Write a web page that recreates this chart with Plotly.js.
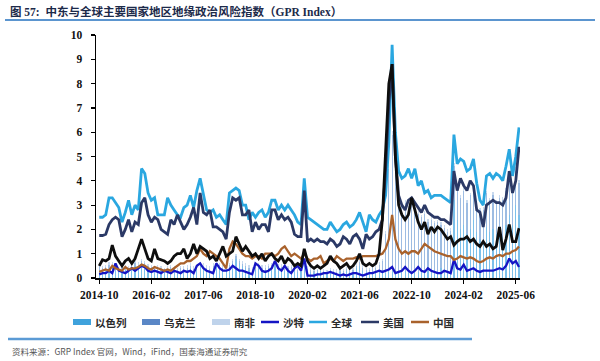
<!DOCTYPE html>
<html><head><meta charset="utf-8">
<script src="https://cdn.plot.ly/plotly-3.0.1.min.js"></script>
<style>html,body{margin:0;padding:0;background:#fff}#chart{width:600px;height:361px}</style>
</head><body><div id="chart"></div>
<script>
// ---------- DATA ----------
const startYear = 2014, startMonth = 10, nMonths = 130;
const months = [];
for (let i = 0; i < nMonths; i++) {
  const m = startMonth - 1 + i;
  months.push((startYear + Math.floor(m / 12)) + '-' + String((m % 12) + 1).padStart(2, '0'));
}
const tickLabels = ['2014-10','2016-02','2017-06','2018-10','2020-02','2021-06','2022-10','2024-02','2025-06'];

const israel = [
 0.3,0.25,0.3,0.35,0.4,0.3,0.25,0.3,0.35,0.3,
 0.4,0.5,0.45,0.6,0.5,0.4,0.35,0.3,0.35,0.3,
 0.25,0.3,0.35,0.3,0.25,0.3,0.3,0.35,0.4,0.3,
 0.35,0.5,0.4,0.35,0.3,0.4,0.5,0.45,0.35,0.3,
 0.45,0.6,0.8,0.6,0.5,0.4,0.35,0.3,0.35,0.4,
 0.3,0.35,0.4,0.45,0.5,0.4,0.35,0.3,0.3,0.35,
 0.3,0.25,0.3,0.6,0.3,0.25,0.2,0.25,0.3,0.2,
 0.2,0.25,0.2,0.2,0.25,0.2,0.3,0.25,0.2,0.4,
 0.5,0.3,0.25,0.2,0.25,0.2,0.25,0.2,0.2,0.3,
 0.3,0.25,0.2,0.25,0.3,0.25,0.3,0.3,0.25,0.3,
 0.35,0.3,0.3,0.35,0.3,0.4,0.35,0.3,0.35,3.2,
 2.4,2.0,2.2,1.8,2.0,2.4,1.9,1.6,1.5,2.1,
 1.9,2.0,1.8,1.9,1.7,2.2,2.6,2.2,3.0,2.6];
const ukraine = [
 0.2,0.15,0.15,0.2,0.15,0.1,0.1,0.15,0.1,0.1,
 0.1,0.1,0.1,0.1,0.1,0.08,0.1,0.08,0.08,0.1,
 0.08,0.08,0.1,0.08,0.08,0.1,0.08,0.08,0.1,0.08,
 0.08,0.08,0.1,0.08,0.08,0.1,0.08,0.08,0.08,0.1,
 0.08,0.08,0.1,0.08,0.08,0.1,0.08,0.08,0.1,0.1,
 0.1,0.08,0.08,0.1,0.08,0.08,0.1,0.08,0.1,0.1,
 0.08,0.08,0.1,0.08,0.06,0.06,0.08,0.06,0.06,0.08,
 0.06,0.06,0.08,0.06,0.06,0.08,0.06,0.1,0.12,0.1,
 0.15,0.12,0.1,0.12,0.15,0.2,0.3,0.5,1.6,4.2,
 5.6,4.0,3.0,2.7,2.8,2.6,2.9,2.5,2.4,2.2,
 2.3,2.0,2.1,1.9,2.0,1.8,1.7,1.6,1.6,1.4,
 1.3,1.3,1.4,1.3,1.4,1.3,1.2,1.2,1.3,1.4,
 1.3,1.4,1.3,1.4,1.5,1.4,1.5,1.3,1.4,1.3];
const southAfrica = [
 0.1,0.08,0.1,0.12,0.1,0.08,0.1,0.1,0.08,0.1,
 0.1,0.12,0.1,0.08,0.1,0.1,0.08,0.1,0.12,0.1,
 0.08,0.1,0.1,0.12,0.1,0.08,0.1,0.12,0.1,0.1,
 0.1,0.08,0.1,0.1,0.12,0.1,0.08,0.1,0.1,0.12,
 0.1,0.1,0.08,0.1,0.12,0.1,0.1,0.08,0.1,0.1,
 0.12,0.1,0.1,0.08,0.1,0.1,0.12,0.1,0.08,0.1,
 0.1,0.08,0.1,0.1,0.12,0.15,0.1,0.08,0.1,0.1,
 0.08,0.1,0.1,0.12,0.1,0.08,0.1,0.1,0.1,0.12,
 0.1,0.1,0.08,0.1,0.1,0.12,0.1,0.1,0.12,0.15,
 0.15,0.12,0.1,0.1,0.12,0.1,0.1,0.12,0.1,0.1,
 0.1,0.12,0.1,0.08,0.1,0.1,0.12,0.1,0.1,0.15,
 0.12,0.1,0.1,0.12,0.1,0.1,0.08,0.1,0.12,0.1,
 0.1,0.12,0.1,0.1,0.12,0.1,0.15,0.12,0.15,0.12];
const saudi = [
 0.15,0.2,0.2,0.3,0.2,0.6,0.3,0.25,0.2,0.3,
 0.4,0.3,0.4,0.5,0.45,0.3,0.25,0.3,0.25,0.2,
 0.3,0.25,0.2,0.3,0.25,0.2,0.3,0.25,0.3,0.2,
 0.5,0.6,0.4,0.3,0.25,0.2,0.6,0.4,0.3,0.3,
 0.35,0.5,0.4,0.3,0.3,0.25,0.2,0.15,0.6,0.5,
 0.3,0.25,0.3,0.4,0.7,0.4,0.3,0.5,0.3,0.2,
 0.4,0.5,0.3,0.8,0.1,0.1,0.1,0.15,0.15,0.2,
 0.2,0.25,0.2,0.15,0.1,0.15,0.1,0.15,0.2,0.2,
 0.15,0.1,0.15,0.2,0.2,0.25,0.3,0.25,0.3,0.35,
 0.45,0.2,0.25,0.3,0.45,0.3,0.2,0.3,0.45,0.3,
 0.25,0.4,0.3,0.25,0.2,0.2,0.3,0.25,0.2,0.75,
 0.4,0.35,0.55,0.3,0.35,0.4,0.3,0.25,0.3,0.3,
 0.3,0.3,0.35,0.4,0.35,0.5,0.8,0.6,0.7,0.45];
const globalIdx = [
 2.5,2.5,2.6,3.3,3.3,3.1,2.9,2.3,2.7,3.2,
 2.6,3.0,2.8,4.5,4.3,3.5,3.2,3.3,2.6,2.6,
 2.6,3.3,3.0,2.8,2.6,2.5,2.9,3.0,3.4,2.9,
 3.6,4.1,3.5,2.8,2.7,2.8,2.5,2.6,2.4,2.2,
 3.5,3.6,3.7,3.6,3.0,3.0,2.4,2.7,2.5,2.7,
 2.8,2.5,2.7,3.2,3.2,2.8,3.0,2.8,3.0,2.8,
 2.6,2.3,2.2,4.1,2.5,2.4,2.3,2.2,2.1,2.0,
 2.0,2.3,2.1,1.9,2.0,2.2,2.3,2.1,2.2,2.4,
 2.7,2.3,1.9,2.6,2.4,2.3,2.6,2.8,3.4,5.6,
 9.6,6.0,4.4,4.1,4.2,4.5,4.1,4.5,3.8,4.0,
 3.5,3.6,3.3,3.4,3.4,3.4,3.3,3.2,3.1,5.9,
 4.7,4.9,4.8,4.4,4.5,4.9,3.9,3.2,3.0,4.2,
 4.3,4.1,4.3,4.2,4.0,4.6,5.3,4.2,5.0,6.2];
const usa = [
 1.75,1.75,1.8,2.2,2.4,2.5,2.4,1.7,2.0,2.4,
 1.9,2.3,2.2,3.1,3.3,2.6,2.3,2.5,2.4,2.0,
 1.9,1.8,2.4,2.2,2.6,2.3,2.0,2.2,2.5,2.9,
 2.2,3.5,2.7,2.6,2.8,2.1,2.1,2.0,1.9,1.6,
 2.7,3.3,3.2,3.3,2.6,2.6,2.8,1.9,2.3,2.0,
 2.2,2.2,1.9,2.8,2.8,2.4,2.6,2.4,2.5,2.3,
 1.8,1.7,1.7,3.6,1.5,1.6,1.5,1.6,1.5,1.5,
 1.4,1.6,1.5,1.3,1.4,1.7,1.6,1.4,1.7,1.8,
 1.6,1.2,1.8,1.6,1.7,1.9,2.0,2.4,4.5,7.2,
 8.8,5.0,3.4,3.0,2.8,3.2,3.3,3.1,2.9,2.7,
 3.0,2.7,2.6,2.5,2.5,2.4,2.4,2.3,2.2,4.4,
 3.6,4.1,3.8,3.6,4.0,3.8,2.8,2.7,2.1,3.0,
 3.1,3.2,3.1,3.1,3.0,3.3,4.4,3.5,4.0,5.4];
const china = [
 0.25,0.3,0.35,0.3,0.5,0.4,0.35,0.3,0.45,0.35,
 0.4,0.4,0.45,0.55,0.5,0.4,0.35,0.45,0.4,0.35,
 0.3,0.35,0.3,0.4,0.5,0.6,0.6,0.7,0.7,0.8,
 0.9,1.2,1.0,0.9,1.1,1.0,0.9,0.8,0.6,0.4,
 1.2,1.5,1.4,1.2,1.0,0.9,0.9,0.8,0.9,0.9,
 0.8,1.0,1.0,1.0,0.9,1.0,1.2,1.3,1.1,0.9,
 1.0,0.9,0.8,1.0,0.8,0.7,0.8,0.8,0.9,0.6,
 0.7,0.8,0.7,0.9,0.8,0.7,0.8,0.8,0.8,0.85,
 0.8,0.9,0.9,0.9,0.9,0.9,0.95,1.0,1.2,1.6,
 2.6,1.6,1.2,1.0,1.1,1.0,1.1,1.1,1.0,1.2,
 1.4,1.3,1.2,1.1,1.05,1.0,0.95,0.9,0.9,0.75,
 0.8,0.9,0.85,0.8,0.85,0.8,0.7,0.65,0.7,0.8,
 0.85,0.8,0.9,0.95,0.9,1.0,1.0,1.1,1.15,1.3];
const russia = [
 0.5,0.75,0.7,0.8,1.35,0.9,0.7,0.5,0.7,0.8,
 0.6,0.8,1.2,1.6,1.2,0.8,0.7,1.2,0.8,0.75,
 0.7,0.6,0.7,0.9,1.0,1.0,1.2,0.8,1.0,1.4,
 1.0,1.3,1.2,1.1,0.8,0.9,0.7,1.0,1.3,0.9,
 1.0,1.1,1.7,1.4,1.1,1.3,1.1,0.9,1.0,0.8,
 1.0,0.7,0.9,1.0,0.8,0.7,0.9,0.6,0.8,0.7,
 0.5,0.6,0.5,1.2,0.7,0.5,0.4,0.5,0.4,0.5,
 0.6,0.9,0.7,0.6,0.4,0.5,0.6,0.4,0.5,0.7,
 1.0,0.6,0.5,0.6,0.5,0.6,1.0,2.4,5.5,8.0,
 8.8,5.0,3.0,2.6,2.4,2.6,3.3,2.8,2.3,2.0,
 2.3,1.8,2.1,1.9,2.1,2.0,1.8,1.6,1.7,1.35,
 1.5,1.6,1.6,1.7,1.5,1.6,1.4,1.3,1.5,1.3,
 1.4,1.2,1.3,2.1,1.15,1.6,2.2,1.5,1.5,2.05];

// ---------- GEOMETRY HELPERS (layout only) ----------
const W = 600, H = 361, ML = 96, MR = 80, MT = 35, MB = 83;
const PW = W - ML - MR, PH = H - MT - MB;
const px2x = px => (px - ML) / PW;
const px2y = py => (MT + PH - py) / PH;

const C = {
  israelBar: '#7CC0EA', ukraineBar: '#9DBCE2', saBar: '#C8DAEF',
  israel: '#3FA2DC', ukraine: '#5A87C6', sa: '#BFD3EB',
  saudi: '#1515C4', global: '#2AA7E0', usa: '#2B3966', china: '#A9622C', russia: '#0E0E0E'
};

const barW = 0.36;
const traces = [
  {type:'bar', name:'以色列', x:months, y:israel, width:barW, marker:{color:C.israelBar, line:{width:0}}},
  {type:'bar', name:'乌克兰', x:months, y:ukraine, width:barW, marker:{color:C.ukraineBar, line:{width:0}}},
  {type:'bar', name:'南非', x:months, y:southAfrica, width:barW, marker:{color:C.saBar, line:{width:0}}},
  {type:'scatter', mode:'lines', name:'全球', x:months, y:globalIdx, line:{color:C.global, width:2.8}},
  {type:'scatter', mode:'lines', name:'美国', x:months, y:usa, line:{color:C.usa, width:2.8}},
  {type:'scatter', mode:'lines', name:'沙特', x:months, y:saudi, line:{color:C.saudi, width:2.3}},
  {type:'scatter', mode:'lines', name:'中国', x:months, y:china, line:{color:C.china, width:2.3}},
  {type:'scatter', mode:'lines', name:'俄罗斯', x:months, y:russia, line:{color:C.russia, width:2.8}}
];

// ---------- MANUAL LEGEND ----------
const legendDef = [
  {name:'以色列', kind:'bar',  color:C.israel,  x:73},
  {name:'乌克兰', kind:'bar',  color:C.ukraine, x:142},
  {name:'南非',   kind:'bar',  color:C.sa,      x:212},
  {name:'沙特',   kind:'line', color:C.saudi,   x:261},
  {name:'全球',   kind:'line', color:C.global,  x:309},
  {name:'美国',   kind:'line', color:C.usa,     x:361},
  {name:'中国',   kind:'line', color:C.china,   x:411}
];
const legY = 322, swW = 18;
const shapes = [], annotations = [];
legendDef.forEach(it => {
  if (it.kind === 'bar') {
    shapes.push({type:'rect', xref:'paper', yref:'paper', x0:px2x(it.x), x1:px2x(it.x+swW),
      y0:px2y(legY+3), y1:px2y(legY-3), fillcolor:it.color, line:{width:0}});
  } else {
    shapes.push({type:'line', xref:'paper', yref:'paper', x0:px2x(it.x), x1:px2x(it.x+swW),
      y0:px2y(legY), y1:px2y(legY), line:{color:it.color, width:2.5}});
  }
  annotations.push({xref:'paper', yref:'paper', x:px2x(it.x+swW+2), y:px2y(legY), xanchor:'left', yanchor:'middle',
    showarrow:false, text:it.name, font:{family:'Noto Sans CJK SC', size:10.5, color:'#2a2a2a', weight:'bold'}});
});
// title rule and source rule
shapes.push({type:'line', xref:'paper', yref:'paper', x0:px2x(5), x1:px2x(595), y0:px2y(20), y1:px2y(20), line:{color:'#5B95CF', width:2}});
shapes.push({type:'line', xref:'paper', yref:'paper', x0:px2x(8), x1:px2x(472), y0:px2y(339), y1:px2y(339), line:{color:'#5B9BD5', width:2.5}});
annotations.push({xref:'paper', yref:'paper', x:px2x(10), y:px2y(351), xanchor:'left', yanchor:'middle', showarrow:false,
  text:'资料来源：GRP Index 官网，Wind，iFind，国泰海通证券研究', font:{family:'Noto Sans CJK SC', size:8.5, color:'#555'}});

const axisFont = {family:'Liberation Serif', size:11.5, color:'#111', weight:'bold'};
const layout = {
  width:W, height:H, margin:{l:ML, r:MR, t:MT, b:MB, pad:0},
  paper_bgcolor:'#fff', plot_bgcolor:'#fff', showlegend:false,
  barmode:'stack', bargap:0,
  title:{text:'图 57:  中东与全球主要国家地区地缘政治风险指数（GPR Index）', x:10/W, xanchor:'left', xref:'container',
    y:1-11.5/H, yanchor:'middle', yref:'container',
    font:{family:'Liberation Serif, Noto Sans CJK SC', size:11.5, color:'#1c2a4a', weight:'bold'}},
  xaxis:{type:'category', range:[-1, 129.3], tickmode:'array', tickvals:tickLabels, ticktext:tickLabels,
    ticks:'outside', ticklen:4, tickwidth:1.2, tickcolor:'#000', showline:true, linecolor:'#000', linewidth:1.5,
    showgrid:false, zeroline:false, tickangle:0, tickfont:axisFont, ticklabelstandoff:2},
  yaxis:{range:[0,10], tick0:0, dtick:1, ticks:'outside', ticklen:4, tickwidth:1.2, tickcolor:'#000',
    showline:true, linecolor:'#000', linewidth:1.5, showgrid:false, zeroline:false, tickfont:axisFont, ticklabelstandoff:6},
  shapes:shapes, annotations:annotations
};
Plotly.newPlot('chart', traces, layout, {staticPlot:true, displayModeBar:false});
</script></body></html>
